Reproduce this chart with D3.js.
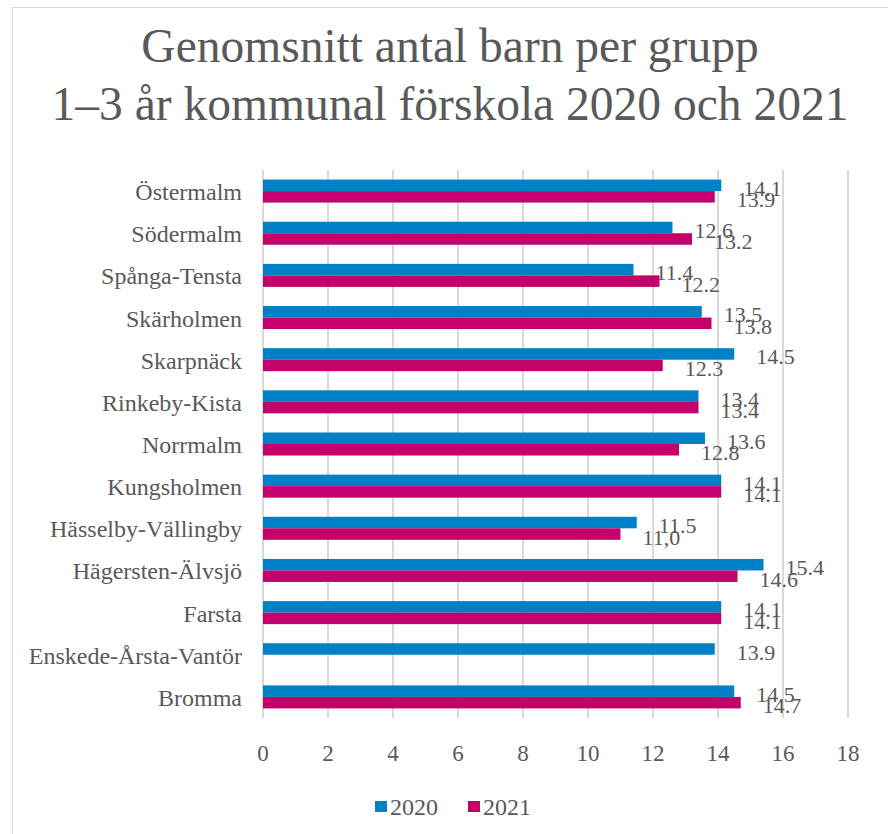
<!DOCTYPE html>
<html>
<head>
<meta charset="utf-8">
<script src="https://cdn.jsdelivr.net/npm/d3@7"></script>
<style>
    body { margin: 0; background: #fff; }
    text { font-family: "Liberation Serif", "Times New Roman", serif; fill: #595959; }
</style>
</head>
<body>
<svg id="chart" width="888" height="834"></svg>
<script>
var titleLines = ["Genomsnitt antal barn per grupp", "1\u20133 år kommunal förskola 2020 och 2021"]
var districts = ["Östermalm", "Södermalm", "Spånga-Tensta", "Skärholmen", "Skarpnäck", "Rinkeby-Kista",
    "Norrmalm", "Kungsholmen", "Hässelby-Vällingby", "Hägersten-Älvsjö", "Farsta", "Enskede-Årsta-Vantör", "Bromma"]
var values2020 = [14.1, 12.6, 11.4, 13.5, 14.5, 13.4, 13.6, 14.1, 11.5, 15.4, 14.1, 13.9, 14.5]
var values2021 = [13.9, 13.2, 12.2, 13.8, 12.3, 13.4, 12.8, 14.1, 11.0, 14.6, 14.1, null, 14.7]
// labels as they appear in the source (one uses a comma)
var labels2020 = ["14.1", "12.6", "11.4", "13.5", "14.5", "13.4", "13.6", "14.1", "11.5", "15.4", "14.1", "13.9", "14.5"]
var labels2021 = ["13.9", "13.2", "12.2", "13.8", "12.3", "13.4", "12.8", "14.1", "11,0", "14.6", "14.1", "", "14.7"]
var xTicks = [0, 2, 4, 6, 8, 10, 12, 14, 16, 18]
var seriesNames = ["2020", "2021"]
var colors = ["#0080C6", "#C4006A"]

var svg = d3.select("#chart")

svg.append("rect")
    .attr("x", 12.5).attr("y", 7.5)
    .attr("width", 900).attr("height", 900)
    .attr("fill", "none").attr("stroke", "#d9d9d9")

svg.selectAll(".title").data(titleLines).enter().append("text")
    .attr("class", "title")
    .attr("x", 450)
    .attr("y", function(d, i) { return 62 + i * 58 })
    .attr("text-anchor", "middle")
    .style("font-size", "47.5px")
    .text(function(d) { return d })

var x = d3.scaleLinear().domain([0, 18]).range([263, 848])
var y = d3.scaleBand().domain(districts).range([170, 718])
var barH = 11.5

// gridlines
svg.selectAll(".grid").data(xTicks).enter().append("line")
    .attr("x1", x).attr("x2", x)
    .attr("y1", 170).attr("y2", 718)
    .attr("stroke", "#d9d9d9").attr("stroke-width", 2)

svg.selectAll(".tick").data(xTicks).enter().append("text")
    .attr("x", x).attr("y", 761)
    .attr("text-anchor", "middle")
    .style("font-size", "23px")
    .text(function(d) { return d })

svg.selectAll(".cat").data(districts).enter().append("text")
    .attr("x", 242)
    .attr("y", function(d) { return y(d) + y.bandwidth() / 2 + 1 })
    .attr("dominant-baseline", "central")
    .attr("text-anchor", "end")
    .style("font-size", "24px")
    .text(function(d) { return d })

var series = [values2020, values2021]
var labels = [labels2020, labels2021]

series.forEach(function(vals, s) {
    var rows = districts.map(function(d, i) { return { name: d, v: vals[i], label: labels[s][i] } })
        .filter(function(r) { return r.v != null })

    svg.selectAll(".bar" + s).data(rows).enter().append("rect")
        .attr("x", x(0))
        .attr("y", function(r) { return y(r.name) + y.bandwidth() / 2 - barH + s * barH })
        .attr("width", function(r) { return x(r.v) - x(0) })
        .attr("height", barH)
        .attr("fill", colors[s])

    svg.selectAll(".lbl" + s).data(rows).enter().append("text")
        .attr("x", function(r) { return x(r.v) + 22 })
        .attr("y", function(r) { return y(r.name) + y.bandwidth() / 2 - barH / 2 + s * barH + 3 })
        .attr("dominant-baseline", "central")
        .style("font-size", "22px")
        .text(function(r) { return r.label })
})

// legend
var legend = svg.append("g")
var legX = [375, 468]
seriesNames.forEach(function(name, i) {
    legend.append("rect")
        .attr("x", legX[i]).attr("y", 801)
        .attr("width", 12).attr("height", 11)
        .attr("fill", colors[i])
    legend.append("text")
        .attr("x", legX[i] + 15).attr("y", 815)
        .style("font-size", "24px")
        .text(name)
})
</script>
</body>
</html>
